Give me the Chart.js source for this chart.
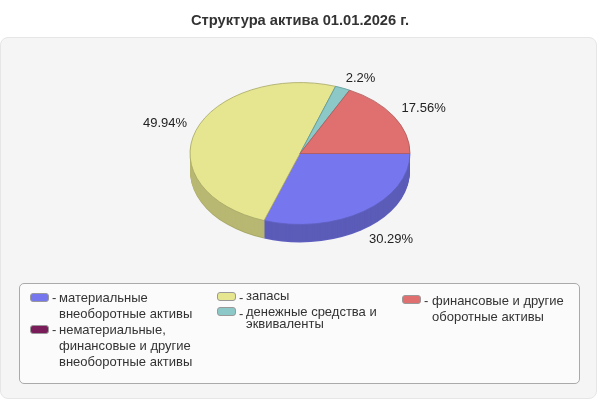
<!DOCTYPE html>
<html lang="ru">
<head>
<meta charset="utf-8">
<title>Структура актива</title>
<script src="https://cdn.jsdelivr.net/npm/chart.js@4/dist/chart.umd.min.js"></script>
<style>
  html, body { margin: 0; padding: 0; background: #fff; }
  #wrap { position: relative; width: 600px; height: 400px; overflow: hidden; font: 13px "Liberation Sans", Arial, sans-serif; color: #333; }
  #panel { position: absolute; left: 0; top: 37px; width: 595px; height: 360px; background: #f5f5f5; border: 1px solid #e6e6e6; border-radius: 8px; }
  #legendBox { position: absolute; left: 19px; top: 283px; width: 559px; height: 99px; background: #fbfbfb; border: 1px solid #aaa; border-radius: 5px; }
  canvas { position: absolute; left: 0; top: 0; }
  .swatch { position: absolute; width: 17px; height: 7px; border: 1px solid #999; border-radius: 3px; }
  .dash, .text { position: absolute; white-space: pre-line; }
</style>
</head>
<body>
<div id="wrap">
  <div id="panel"></div>
  <div id="legendBox"></div>
  <canvas id="js--chart--1" width="600" height="400"></canvas>
</div>
<script>
const titleText = "Структура актива 01.01.2026 г.";

const categories = [
    "материальные\nвнеоборотные активы",
    "нематериальные,\nфинансовые и другие\nвнеоборотные активы",
    "запасы",
    "денежные средства и\nэквиваленты",
    "финансовые и другие\nоборотные активы",
];
const values = [30.29, 0, 49.94, 2.2, 17.56];
const colors = ['#7676ee', '#7a1c5a', '#e6e691', '#8cc8c8', '#e07070'];
const edgeColors = ['#5f5fc0', '#5a1443', '#a8a868', '#5f9a9a', '#b05c5c'];
const sideColors = ['#5b5cb8', '#5a1443', '#b8b873', '#6d9c9c', '#ae5757'];

// x, y of swatch, x of text, y of text, line height
const legendPlaces = [
    [30, 293, 59, 290, 16],
    [30, 325, 59, 322, 16],
    [217, 292, 246, 290, 12],
    [217, 307, 246, 306, 12],
    [402, 295, 432, 293, 16],
];

const squash = 0.645;
const depth = 18;

const wrap = document.getElementById("wrap");
categories.forEach(function (name, i) {
    const p = legendPlaces[i];
    const sw = document.createElement("div");
    sw.className = "swatch";
    sw.style.left = p[0] + "px";
    sw.style.top = p[1] + "px";
    sw.style.background = colors[i];
    wrap.appendChild(sw);
    const dash = document.createElement("div");
    dash.className = "dash";
    dash.style.left = (p[0] + 22) + "px";
    dash.style.top = p[3] + "px";
    dash.textContent = "-";
    wrap.appendChild(dash);
    const txt = document.createElement("div");
    txt.className = "text";
    txt.style.left = p[2] + "px";
    txt.style.top = p[3] + "px";
    txt.style.lineHeight = p[4] + "px";
    txt.textContent = name;
    wrap.appendChild(txt);
});

// squashes the pie to an ellipse and puts a rim under it
const tiltedPie = {
    id: "tiltedPie",
    beforeDatasetDraw(chart) {
        const ctx = chart.ctx;
        const arcs = chart.getDatasetMeta(0).data;
        const cx = arcs[0].x, cy = arcs[0].y, r = arcs[0].outerRadius;
        for (let d = depth; d > 0; d--) {
            arcs.forEach(function (arc, i) {
                if (values[i] === 0) return;
                ctx.save();
                ctx.translate(cx, cy + d);
                ctx.scale(1, squash);
                ctx.beginPath();
                ctx.moveTo(0, 0);
                ctx.arc(0, 0, r, arc.startAngle, arc.endAngle);
                ctx.closePath();
                ctx.fillStyle = d === depth ? edgeColors[i] : sideColors[i];
                ctx.fill();
                ctx.restore();
            });
        }
        ctx.save();
        ctx.translate(cx, cy);
        ctx.scale(1, squash);
        ctx.translate(-cx, -cy);
    },
    afterDatasetDraw(chart) {
        chart.ctx.restore();
    },
    afterDraw(chart) {
        const ctx = chart.ctx;
        ctx.save();
        ctx.font = '13px "Liberation Sans", Arial, sans-serif';
        ctx.fillStyle = "#222";
        ctx.textBaseline = "middle";
        chart.getDatasetMeta(0).data.forEach(function (arc, i) {
            if (values[i] === 0) return;
            const mid = (arc.startAngle + arc.endAngle) / 2;
            const c = Math.cos(mid), s = Math.sin(mid);
            const px = arc.x + arc.outerRadius * c;
            const py = arc.y + arc.outerRadius * squash * s;
            const gap = 10.5 * Math.abs(c) - 1;
            ctx.textAlign = c > 0 ? "left" : "right";
            ctx.fillText(values[i] + "%", px + (c > 0 ? gap : -gap), py + (s > 0 ? depth + 10 : -6 + 4.5 * s));
        });
        ctx.restore();
    }
};

const config = {
    type: 'pie',
    data: {
        labels: categories,
        datasets: [{
            data: values,
            backgroundColor: colors,
            borderColor: edgeColors,
            borderWidth: 1,
        }]
    },
    options: {
        responsive: false,
        animation: false,
        devicePixelRatio: 1,
        rotation: 90,
        layout: { padding: { top: 0, bottom: 136 } },
        plugins: {
            legend: { display: false },
            tooltip: { enabled: false },
            title: {
                display: true,
                text: titleText,
                color: "#333",
                font: { family: '"Liberation Sans", Arial, sans-serif', size: 14.7, weight: 'bold', lineHeight: 1 },
                padding: { top: 14, bottom: 14.3 },
            }
        }
    },
    plugins: [tiltedPie],
};

new Chart(document.getElementById("js--chart--1"), config);
</script>
</body>
</html>
